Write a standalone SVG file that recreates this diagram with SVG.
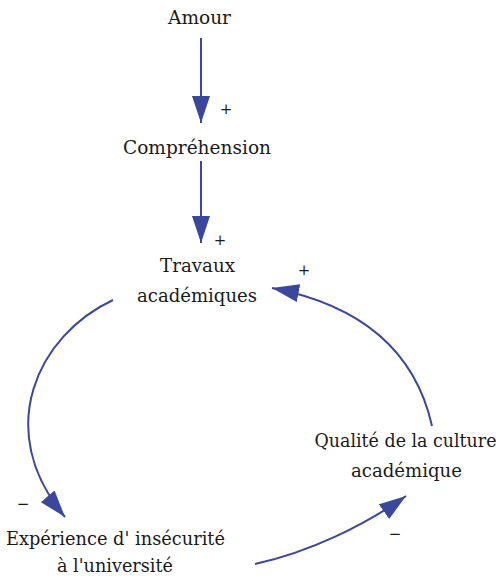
<svg xmlns="http://www.w3.org/2000/svg" width="503" height="580" viewBox="0 0 503 580">
<style>
text{font-family:"DejaVu Serif","Liberation Serif",serif;fill:#1a1a1a;}
.n{font-size:19px;text-anchor:middle;}
.s{font-size:15px;text-anchor:middle;}
.c{fill:none;stroke:#3b479b;stroke-width:2;}
</style>
<defs>
<marker id="ah" markerUnits="userSpaceOnUse" markerWidth="27" markerHeight="18" refX="27" refY="9" orient="auto">
<path d="M0,0 L27,9 L0,18 z" fill="#3b479b"/>
</marker>
</defs>
<rect width="503" height="580" fill="#fff"/>
<g id="connectors">
<path class="c" d="M201,38 L201,123" marker-end="url(#ah)"/>
<path class="c" d="M201,161 L201,243" marker-end="url(#ah)"/>
<path class="c" d="M113,300 C38,335 -8,430 65,517" marker-end="url(#ah)"/>
<path class="c" d="M255,564 C310,552 365,525 406,496" marker-end="url(#ah)"/>
<path class="c" d="M432,426 C415,350 360,305 272,288" marker-end="url(#ah)"/>
<text class="s" x="226" y="114">+</text>
<text class="s" x="220" y="245">+</text>
<text class="s" x="304" y="275">+</text>
<text class="s" x="23" y="509">−</text>
<text class="s" x="395" y="539">−</text>
</g>
<g id="amour"><text class="n" x="199.5" y="24" textLength="63" lengthAdjust="spacingAndGlyphs">Amour</text></g>
<g id="comprehension"><text class="n" x="197" y="154" textLength="148" lengthAdjust="spacingAndGlyphs">Compréhension</text></g>
<g id="travaux"><text class="n" x="197.5" y="272" textLength="75" lengthAdjust="spacingAndGlyphs">Travaux</text><text class="n" x="197" y="302" textLength="120" lengthAdjust="spacingAndGlyphs">académiques</text></g>
<g id="experience"><text class="n" x="115.5" y="545" textLength="219" lengthAdjust="spacingAndGlyphs">Expérience d' insécurité</text><text class="n" x="115" y="572" textLength="116" lengthAdjust="spacingAndGlyphs">à l'université</text></g>
<g id="qualite"><text class="n" x="405.5" y="447" style="font-size:18px" textLength="182" lengthAdjust="spacingAndGlyphs">Qualité de la culture</text><text class="n" x="406.5" y="477" textLength="111" lengthAdjust="spacingAndGlyphs">académique</text></g>
</svg>
